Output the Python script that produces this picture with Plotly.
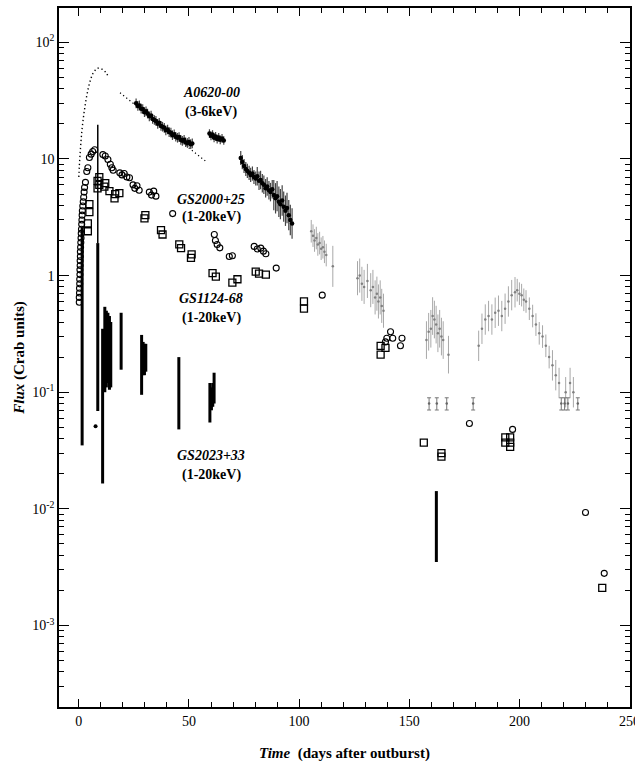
import numpy as np
import plotly.graph_objects as go

# ---------------- data ----------------
# A0620-00 (3-6 keV): model curve near the peak and extrapolated decay
a0620_model_day = [0, 0.2, 0.5, 0.9, 1.4, 2.0, 2.7, 3.5, 4.5, 5.5, 6.5, 7.5, 8.5, 9.5, 10.5, 11.5, 12.5, 13.3]
a0620_model_flux = [7, 8.5, 10.5, 13.5, 17.5, 22, 27.5, 34, 42, 49, 54.5, 58, 60, 60, 59, 57, 54.5, 51]
a0620_extrap_day = [18.7, 58.4]
a0620_extrap_flux = [37.0, 9.3]

# A0620-00 measured (dense black points)
a0620_day = [26.0, 26.8, 27.5, 28.3, 29.0, 29.8, 30.5, 31.2, 32.0, 32.8, 33.5, 34.3, 35.0, 35.8,
             36.5, 37.3, 38.0, 38.8, 39.5, 40.3, 41.0, 41.8, 42.5, 43.3, 44.0, 44.8, 45.5, 46.3,
             47.0, 47.8, 48.5, 49.3, 50.0, 50.8, 51.5,
             59.3, 60.0, 60.7, 61.4, 62.1, 62.8, 63.5, 64.2, 65.0, 65.8,
             73.5, 74.2, 75.0, 75.8, 76.5, 77.3, 78.0, 78.8, 79.5, 80.3, 81.0, 81.8, 82.5, 83.3,
             84.0, 84.8, 85.5, 86.3, 87.0, 87.8, 88.5, 89.3, 90.0, 90.8, 91.5, 92.3, 93.0, 93.8,
             94.5, 95.3, 96.0, 96.8]
a0620_flux = [30.0, 28.5, 28.8, 27.0, 26.8, 25.2, 25.6, 24.5, 23.2, 23.6, 22.0, 21.6, 21.2, 20.0,
              20.4, 19.2, 18.9, 18.5, 17.6, 17.9, 17.0, 16.8, 16.0, 16.3, 15.5, 15.2, 15.4, 14.6,
              14.3, 14.6, 13.9, 13.7, 14.0, 13.4, 13.6,
              16.5, 15.8, 16.2, 15.2, 15.6, 14.8, 15.3, 14.6, 15.0, 14.4,
              10.2, 9.4, 8.7, 8.2, 7.9, 7.6, 7.3, 7.5, 7.0, 6.8, 7.1, 6.5, 6.6, 6.2,
              6.0, 5.6, 5.8, 5.4, 5.2, 5.5, 4.9, 4.6, 4.8, 4.3, 4.1, 4.4, 3.9, 3.6,
              3.8, 3.3, 3.0, 2.8]
a0620_relerr = [0.10] * 35 + [0.09] * 10 + [0.15] * 10 + [0.2] * 10 + [0.35] * 12

# A0620-00 later, fainter points (grey)
a0620_late_day = [105.5, 106.3, 107.0, 107.8, 108.5, 109.3, 110.0, 110.8, 111.5, 112.3, 115.3,
                  126.5, 127.5, 128.5, 129.5, 131.0, 132.5, 133.5, 134.5, 135.3, 136.0, 136.8, 137.5, 138.3,
                  157.8, 158.8, 159.8, 160.6, 161.4, 162.2, 163.0, 163.8, 164.6, 165.4, 167.8,
                  181.5, 183.0, 184.5, 186.0, 187.5, 189.0, 190.5, 192.0, 193.5, 195.0, 196.5, 198.0,
                  199.0, 200.0, 201.0, 202.0, 203.0, 204.5, 206.0, 207.5, 209.0, 210.5, 212.0, 213.5,
                  215.0, 216.5, 218.0, 221.0, 223.0, 224.5]
a0620_late_flux = [2.4, 2.2, 2.0, 2.1, 1.85, 1.9, 1.7, 1.75, 1.6, 1.5, 1.2,
                   0.95, 1.0, 0.85, 0.8, 0.9, 0.75, 0.8, 0.65, 0.7, 0.6, 0.65, 0.55, 0.5,
                   0.28, 0.33, 0.35, 0.45, 0.42, 0.38, 0.32, 0.35, 0.30, 0.28, 0.21,
                   0.25, 0.35, 0.42, 0.45, 0.42, 0.48, 0.50, 0.45, 0.52, 0.60, 0.68, 0.72,
                   0.75, 0.70, 0.68, 0.62, 0.60, 0.52, 0.45, 0.38, 0.32, 0.30, 0.25, 0.20,
                   0.17, 0.14, 0.12, 0.10, 0.12, 0.10]
a0620_late_relerr = [0.25] * 10 + [0.5] + [0.4] * 13 + [0.45] * 11 + [0.35] * 12 + [0.25] * 12 + [0.35] * 6
a0620_lim_day = [159.0, 162.5, 167.0, 179.0, 219.0, 220.5, 222.0, 226.5]
a0620_lim_flux = [0.08, 0.08, 0.08, 0.08, 0.08, 0.08, 0.08, 0.08]

# GS2000+25 (1-20 keV): open circles
gs2000_day = [0.2, 0.2, 0.3, 0.3, 0.4, 0.4, 0.5, 0.5, 0.6, 0.6, 0.7, 0.7, 0.8, 0.9, 1.0, 1.1, 1.2,
              1.3, 1.4, 1.5, 1.6, 1.8, 2.0, 2.2, 2.4, 2.6, 3.0, 3.6, 4.1, 4.8, 5.6, 6.3, 7.2,
              10.9, 12.0, 13.2, 14.3, 15.0, 15.6,
              18.6, 19.6, 20.6, 21.8, 23.0, 24.6, 25.4, 26.4, 27.4, 32.0, 33.0, 34.0, 35.0,
              42.6, 61.5, 62.0, 62.8, 64.0, 68.3, 69.7, 79.6, 81.0, 82.6, 83.8, 84.9, 89.6,
              110.5, 139.2, 139.8, 141.5, 142.5, 146.0, 146.7, 177.3, 196.9, 230.0, 238.5]
gs2000_flux = [0.59, 0.65, 0.71, 0.78, 0.85, 0.93, 1.02, 1.12, 1.22, 1.34, 1.46, 1.6, 1.75, 1.92,
               2.1, 2.3, 2.5, 2.75, 3.0, 3.3, 3.6, 3.95, 4.3, 4.7, 5.2, 5.7, 6.3, 7.8, 8.4, 10.3,
               11.0, 11.6, 12.0,
               10.9, 10.6, 9.9, 9.0, 8.4, 8.0,
               7.6, 7.3, 7.5, 7.0, 6.9, 6.0, 5.6, 5.9, 5.4, 5.2, 4.9, 5.3, 4.8,
               3.4, 2.25, 2.0, 1.85, 1.73, 1.46, 1.48, 1.78, 1.69, 1.72, 1.62, 1.54, 1.16,
               0.68, 0.27, 0.29, 0.33, 0.29, 0.25, 0.29, 0.054, 0.048, 0.0093, 0.0028]

# GS1124-68 (1-20 keV): open squares
gs1124_day = [4.1, 4.1, 4.8, 4.8, 8.5, 8.5, 9.3, 9.3, 11.6, 12.0, 13.9, 16.2, 16.5, 18.4,
              29.8, 30.2, 37.3, 38.0, 45.6, 46.4, 50.9, 51.2, 60.7, 62.2, 69.7, 72.0,
              80.3, 81.8, 84.9, 102.2, 102.2, 137.0, 137.0, 139.2, 156.6, 164.6, 164.6,
              193.6, 193.6, 195.8, 195.8, 195.8, 237.6]
gs1124_flux = [2.4, 2.8, 3.5, 4.1, 5.6, 6.5, 6.0, 7.0, 5.8, 6.2, 5.3, 4.6, 5.0, 5.1,
               3.1, 3.3, 2.45, 2.25, 1.85, 1.72, 1.42, 1.52, 1.05, 0.98, 0.87, 0.93,
               1.08, 1.04, 1.02, 0.52, 0.60, 0.21, 0.25, 0.24, 0.037, 0.030, 0.028,
               0.041, 0.037, 0.041, 0.037, 0.034, 0.0021]

# GS2023+33 (1-20 keV): dense vertical groups of black points (low / high extent)
gs2023_day = [1.5, 8.6, 10.8, 11.8, 12.5, 13.2, 13.9, 14.5, 19.2, 28.5, 29.2, 29.8, 30.4,
              45.4, 59.5, 60.2, 60.8, 61.4, 162.3]
gs2023_lo = [0.035, 0.069, 0.0165, 0.10, 0.11, 0.12, 0.105, 0.11, 0.156, 0.095, 0.14, 0.14, 0.15,
             0.048, 0.055, 0.07, 0.075, 0.08, 0.0035]
gs2023_hi = [2.6, 1.9, 0.35, 0.54, 0.50, 0.48, 0.45, 0.40, 0.48, 0.31, 0.27, 0.26, 0.26,
             0.20, 0.12, 0.11, 0.12, 0.147, 0.0142]
gs2023_spike_day = [8.6]
gs2023_spike_lo = [1.9]
gs2023_spike_hi = [19.7]
gs2023_dot_day = [7.6]
gs2023_dot_flux = [0.051]

# axes
x_ticks = [0, 50, 100, 150, 200, 250]
y_ticks = [1e-3, 1e-2, 1e-1, 1, 10, 100]
y_ticktext = ["10<sup>-3</sup>", "10<sup>-2</sup>", "10<sup>-1</sup>", "1", "10", "10<sup>2</sup>"]

# ---------------- figure ----------------
FONT = "Liberation Serif, Times New Roman, serif"
fig = go.Figure()


def bars(days, lo, hi, width, color):
    lo = np.array(lo); hi = np.array(hi)
    c = np.sqrt(lo * hi)
    fig.add_trace(go.Scatter(
        x=days, y=c, mode="markers", marker=dict(size=1, color=color),
        error_y=dict(type="data", symmetric=False, array=hi - c, arrayminus=c - lo,
                     thickness=width, width=0, color=color),
        hoverinfo="skip", showlegend=False))


# A0620 model curves
fig.add_trace(go.Scatter(x=a0620_model_day, y=a0620_model_flux, mode="lines",
                         line=dict(color="black", width=1.4, dash="1.3px,2.7px", shape="spline"),
                         showlegend=False))
fig.add_trace(go.Scatter(x=a0620_extrap_day, y=a0620_extrap_flux, mode="lines",
                         line=dict(color="black", width=1.2, dash="1.2px,2.8px"), showlegend=False))

# A0620 late grey points
lf = np.array(a0620_late_flux); lr = np.array(a0620_late_relerr)
fig.add_trace(go.Scatter(x=a0620_late_day, y=lf, mode="markers",
                         marker=dict(size=2.5, color="#808080"),
                         error_y=dict(type="data", symmetric=False, array=lf * lr,
                                      arrayminus=lf * lr / (1 + lr), thickness=1, width=0,
                                      color="#a8a8a8"),
                         showlegend=False))
fig.add_trace(go.Scatter(x=a0620_lim_day, y=a0620_lim_flux, mode="markers",
                         marker=dict(size=2.5, color="#666"),
                         error_y=dict(type="percent", value=12, thickness=1, width=2, color="#777"),
                         showlegend=False))

# A0620 dense black points
af = np.array(a0620_flux); ar = np.array(a0620_relerr)
fig.add_trace(go.Scatter(x=a0620_day, y=af, mode="markers",
                         marker=dict(size=4.5, color="black"),
                         error_y=dict(type="data", symmetric=False, array=af * ar,
                                      arrayminus=af * ar / (1 + ar), thickness=1.2, width=0,
                                      color="#444"),
                         showlegend=False))

# GS2023+33 vertical groups
bars(gs2023_day, gs2023_lo, gs2023_hi, 3, "black")
bars(gs2023_spike_day, gs2023_spike_lo, gs2023_spike_hi, 1.5, "black")
fig.add_trace(go.Scatter(x=gs2023_dot_day, y=gs2023_dot_flux, mode="markers",
                         marker=dict(size=4, color="black"), showlegend=False))

# GS2000+25 circles
fig.add_trace(go.Scatter(x=gs2000_day, y=gs2000_flux, mode="markers",
                         marker=dict(symbol="circle-open", size=6, color="black",
                                     line=dict(width=1.1)), showlegend=False))
# GS1124-68 squares
fig.add_trace(go.Scatter(x=gs1124_day, y=gs1124_flux, mode="markers",
                         marker=dict(symbol="square-open", size=7, color="black",
                                     line=dict(width=1.3)), showlegend=False))

# labels
labels = [
    (60, 36.8, "<b><i>A0620-00</i></b>"), (60, 25.4, "<b>(3-6keV)</b>"),
    (60, 4.48, "<b><i>GS2000+25</i></b>"), (60, 3.2, "<b>(1-20keV)</b>"),
    (60, 0.635, "<b><i>GS1124-68</i></b>"), (60, 0.437, "<b>(1-20keV)</b>"),
    (60, 0.0287, "<b><i>GS2023+33</i></b>"), (60, 0.0197, "<b>(1-20keV)</b>"),
]
for x, y, t in labels:
    fig.add_annotation(x=x, y=np.log10(y), text=t, showarrow=False,
                       font=dict(family=FONT, size=14, color="black"))

minor_y = [m * 10.0 ** e for e in range(-4, 3) for m in range(2, 10)]

fig.update_xaxes(range=[-9, 250.2], tickvals=x_ticks, ticks="inside", ticklen=8, tickwidth=1.2,
                 tickcolor="black", showline=True, linecolor="black", linewidth=1.5,
                 mirror="ticks", showgrid=False, zeroline=False, ticklabeloverflow="allow",
                 automargin=False,
                 minor=dict(dtick=10, tick0=0, ticks="inside", ticklen=5, tickcolor="black",
                            showgrid=False),
                 tickfont=dict(family=FONT, size=14, color="black"),
                 title=dict(text="<b><i>Time</i></b>  <b>(days after outburst)</b>",
                            font=dict(family=FONT, size=15, color="black"), standoff=20))
fig.update_yaxes(type="log", range=[np.log10(2e-4), np.log10(197)], tickvals=y_ticks,
                 ticktext=y_ticktext, ticks="inside", ticklen=10, tickwidth=1.2,
                 tickcolor="black", showline=True, linecolor="black", linewidth=1.5,
                 mirror="ticks", showgrid=False, zeroline=False, automargin=False,
                 minor=dict(tickvals=minor_y, ticks="inside", ticklen=5, tickcolor="black",
                            showgrid=False),
                 tickfont=dict(family=FONT, size=14, color="black"),
                 title=dict(text="<b><i>Flux</i></b> <b>(Crab units)</b>",
                            font=dict(family=FONT, size=15, color="black"), standoff=4))

fig.update_layout(width=635, height=766, margin=dict(l=59, r=5, t=8, b=59, autoexpand=False),
                  plot_bgcolor="white", paper_bgcolor="white", showlegend=False)

fig.write_html("out.html")
